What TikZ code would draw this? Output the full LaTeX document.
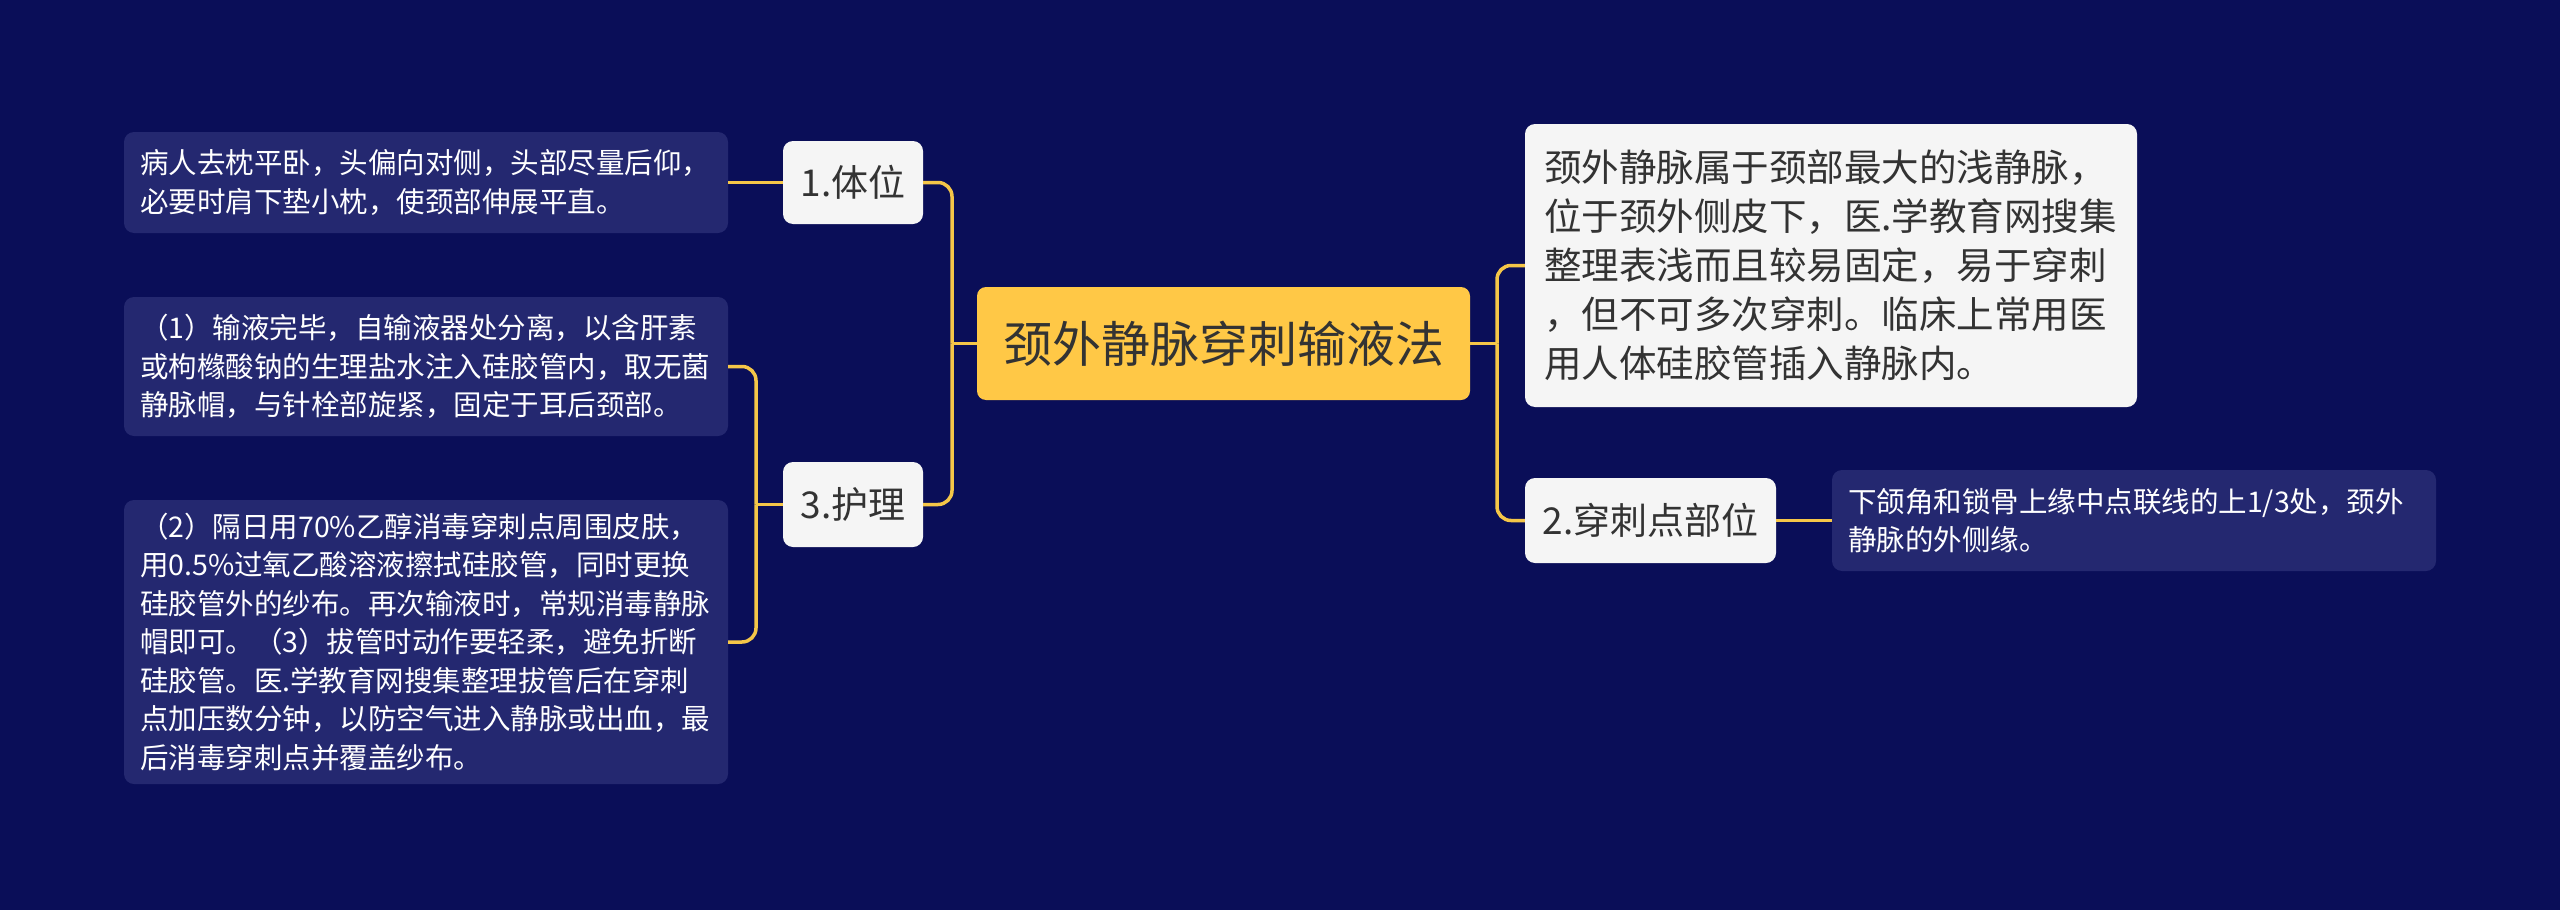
\documentclass[tikz,border=0pt]{standalone}
\usepackage{fontspec}
\setmainfont{Noto Sans CJK SC}
\definecolor{bg}{RGB}{10,14,88}
\definecolor{darkbox}{RGB}{36,40,112}
\definecolor{rootfill}{RGB}{255,200,70}
\definecolor{lightbox}{RGB}{245,245,245}
\definecolor{linecol}{RGB}{245,198,72}
\definecolor{darktext}{RGB}{51,51,51}
\begin{document}
\begin{tikzpicture}[x=1pt,y=-1pt,
  conn/.style={draw=linecol, line width=3.5pt, rounded corners=14pt},
  darknote/.style={fill=darkbox, rounded corners=10pt, text=white, align=left,
    inner xsep=16pt, inner ysep=0pt, font=\fontsize{28.5}{38.5}\selectfont},
  lightnote/.style={fill=lightbox, rounded corners=10pt, text=darktext, align=left,
    inner xsep=19pt, inner ysep=0pt, font=\fontsize{37.5}{49}\selectfont},
  branch/.style={fill=lightbox, rounded corners=10pt, text=darktext, align=center,
    inner sep=0pt, font=\fontsize{37}{44}\selectfont},
  rootbox/.style={fill=rootfill, rounded corners=9pt, text=darktext, align=center,
    inner sep=0pt, font=\fontsize{49}{56}\selectfont}
]
\useasboundingbox (0,0) rectangle (2560,910);
\fill[bg] (0,0) rectangle (2560,910);

% root
\node[rootbox, minimum width=493pt, minimum height=113pt] (root) at (1223.5,343.5) {颈外静脉穿刺输液法};

% left branches
\node[branch, minimum width=140pt, minimum height=83pt] (n1) at (853,182.5) {1.体位};
\node[branch, minimum width=140pt, minimum height=85pt] (n3) at (853,504.5) {3.护理};

% right branches
\node[lightnote, text width=574pt, minimum height=283pt] (r1) at (1831,265.5)
  {颈外静脉属于颈部最大的浅静脉，\\位于颈外侧皮下，医.学教育网搜集\\整理表浅而且较易固定，易于穿刺\\，但不可多次穿刺。临床上常用医\\用人体硅胶管插入静脉内。};
\node[branch, minimum width=251pt, minimum height=85pt] (n2) at (1650.5,520.5) {2.穿刺点部位};

% notes
\node[darknote, text width=572pt, minimum height=101pt] (t1) at (426,182.5)
  {病人去枕平卧，头偏向对侧，头部尽量后仰，\\必要时肩下垫小枕，使颈部伸展平直。};
\node[darknote, text width=572pt, minimum height=139pt] (t2) at (426,366.5)
  {（1）输液完毕，自输液器处分离，以含肝素\\或枸橼酸钠的生理盐水注入硅胶管内，取无菌\\静脉帽，与针栓部旋紧，固定于耳后颈部。};
\node[darknote, text width=572pt, minimum height=284pt] (t3) at (426,642)
  {（2）隔日用70\%乙醇消毒穿刺点周围皮肤，\\用0.5\%过氧乙酸溶液擦拭硅胶管，同时更换\\硅胶管外的纱布。再次输液时，常规消毒静脉\\帽即可。（3）拔管时动作要轻柔，避免折断\\硅胶管。医.学教育网搜集整理拔管后在穿刺\\点加压数分钟，以防空气进入静脉或出血，最\\后消毒穿刺点并覆盖纱布。};
\node[darknote, text width=572pt, minimum height=101pt] (r2) at (2134,520.5)
  {下颌角和锁骨上缘中点联线的上1/3处，颈外\\静脉的外侧缘。};

% junction points
\coordinate (bl) at (952,343.5);
\coordinate (b3) at (756,504.5);
\coordinate (br) at (1497,343.5);

% connectors
\draw[conn] (root.west) -- (bl);
\draw[conn] (bl) |- (n1.east);
\draw[conn] (bl) |- (n3.east);
\draw[conn] (n1.west) -- (t1.east);
\draw[conn] (n3.west) -- (b3);
\draw[conn] (b3) |- (t2.east);
\draw[conn] (b3) |- (t3.east);
\draw[conn] (root.east) -- (br);
\draw[conn] (br) |- (r1.west);
\draw[conn] (br) |- (n2.west);
\draw[conn] (n2.east) -- (r2.west);
\end{tikzpicture}
\end{document}
